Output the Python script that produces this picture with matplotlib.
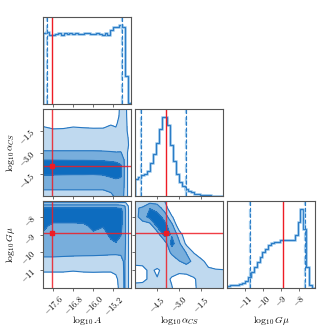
import numpy as np
import matplotlib
matplotlib.use("Agg")
import matplotlib.pyplot as plt
from matplotlib.ticker import FixedLocator, FixedFormatter, NullFormatter, NullLocator

plt.rcParams['mathtext.fontset'] = 'cm'
plt.rcParams['font.family'] = ['DejaVu Serif']

# ---------------- data ----------------
labels = [r"$\log_{10}A$", r"$\log_{10}\alpha_{CS}$", r"$\log_{10}G\mu$"]
ranges = [(-18.0, -14.5), (-6.0, 0.0), (-12.0, -7.08)]
truths = [-17.65, -3.92, -8.89]
q_lo = [-17.84, -5.61, -10.72]
q_hi = [-14.85, -2.52, -7.64]
ticks = [[-17.6, -16.8, -16.0, -15.2], [-4.5, -3.0, -1.5], [-11, -10, -9, -8]]
tick_labels = [[r"$-17.6$", r"$-16.8$", r"$-16.0$", r"$-15.2$"],
               [r"$-4.5$", r"$-3.0$", r"$-1.5$"],
               [r"$-11$", r"$-10$", r"$-9$", r"$-8$"]]

# 1D marginal histograms (30 bins over each range, peak-normalised)
hist_A = [0.902, 0.911, 0.877, 0.877, 0.885, 0.902, 0.877, 0.894, 0.885, 0.894,
          0.881, 0.894, 0.885, 0.885, 0.902, 0.894, 0.889, 0.885, 0.894, 0.885,
          0.877, 0.902, 0.877, 0.936, 0.970, 0.979, 1.000, 0.979, 0.362, 0.021]
hist_alpha = [0.221, 0.247, 0.264, 0.285, 0.319, 0.417, 0.532, 0.668, 0.843, 0.991,
              1.000, 0.894, 0.647, 0.447, 0.277, 0.179, 0.128, 0.094, 0.060, 0.047,
              0.034, 0.026, 0.021, 0.017, 0.013, 0.013, 0.009, 0.009, 0.004, 0.004]
hist_Gmu = [0.021, 0.034, 0.038, 0.043, 0.055, 0.068, 0.094, 0.140, 0.204, 0.264,
            0.328, 0.391, 0.447, 0.489, 0.545, 0.570, 0.583, 0.583, 0.609, 0.609,
            0.609, 0.604, 0.609, 0.672, 0.830, 1.000, 0.745, 0.264, 0.034, 0.000]

# 2D density grids (arbitrary units; contour thresholds 1, 2, 3)
A_nodes = [-18.0, -17.6, -17.2, -16.8, -16.4, -16.0, -15.6, -15.3, -15.1, -14.9, -14.75, -14.6, -14.5]
alpha_nodes = [-6.0, -5.5, -5.0, -4.5, -4.0, -3.5, -3.0, -2.5, -2.0, -1.5, -1.0, -0.5, 0.0]
Gmu_nodes_A = [-12.0, -11.5, -11.0, -10.5, -10.0, -9.5, -9.0, -8.5, -8.0, -7.6, -7.4, -7.2, -7.0]
Gmu_nodes_alpha = [-12.0, -11.5, -11.0, -10.5, -10.0, -9.5, -9.0, -8.5, -8.0, -7.5, -7.0]

dens_A_alpha = [
    [1.3, 1.3, 1.3, 1.3, 1.3, 1.3, 1.3, 1.7, 2.2, 2.3, 1.9, 0.75, 0.3],
    [2.1, 2.1, 2.1, 2.1, 2.1, 2.1, 2.1, 2.3, 2.5, 2.5, 1.9, 0.75, 0.3],
    [2.5, 2.5, 2.5, 2.5, 2.5, 2.5, 2.55, 2.7, 2.8, 2.8, 1.9, 0.75, 0.3],
    [3.05, 3.05, 3.03, 3.02, 3.02, 3.01, 3.05, 3.2, 3.3, 3.15, 1.9, 0.75, 0.3],
    [3.6, 3.6, 3.6, 3.6, 3.6, 3.6, 3.6, 3.6, 3.6, 3.2, 1.9, 0.75, 0.3],
    [2.98, 2.97, 2.96, 2.95, 2.95, 2.94, 2.9, 2.8, 2.7, 2.6, 1.9, 0.75, 0.3],
    [2.1, 2.1, 2.1, 2.1, 2.1, 2.1, 2.08, 2.05, 2.02, 2.02, 1.85, 0.75, 0.3],
    [1.68, 1.68, 1.68, 1.68, 1.68, 1.68, 1.68, 1.68, 1.7, 1.8, 1.75, 1.05, 0.3],
    [1.5, 1.5, 1.5, 1.5, 1.5, 1.5, 1.5, 1.5, 1.5, 1.6, 1.6, 0.95, 0.3],
    [1.1, 1.1, 1.1, 1.1, 1.1, 1.1, 1.1, 1.1, 1.15, 1.5, 1.5, 0.75, 0.3],
    [0.92, 0.68, 0.75, 0.9, 0.85, 0.8, 0.81, 0.97, 0.85, 1.4, 1.4, 0.75, 0.3],
    [0.6, 0.5, 0.5, 0.55, 0.55, 0.5, 0.5, 0.6, 0.5, 1.3, 1.3, 0.75, 0.3],
    [0.4, 0.3, 0.3, 0.35, 0.35, 0.3, 0.3, 0.4, 0.4, 1.26, 1.26, 0.75, 0.3],
]

dens_A_Gmu = [
    [0.4, 0.4, 0.4, 0.4, 0.4, 0.4, 0.4, 0.4, 0.5, 1.5, 2.1, 1.05, 0.3],
    [0.6, 0.6, 0.6, 0.55, 0.6, 0.6, 0.6, 0.6, 0.7, 1.6, 2.1, 1.05, 0.3],
    [1.1, 1.1, 1.1, 1.05, 1.1, 1.12, 1.1, 1.1, 1.3, 1.7, 2.1, 1.05, 0.3],
    [1.8, 1.8, 1.78, 1.76, 1.75, 1.75, 1.74, 1.72, 1.7, 1.8, 2.1, 1.05, 0.3],
    [2.2, 2.2, 2.18, 2.16, 2.15, 2.14, 2.12, 2.1, 2.1, 2.1, 2.2, 1.05, 0.3],
    [2.5, 2.5, 2.5, 2.5, 2.5, 2.5, 2.5, 2.8, 2.95, 2.7, 2.3, 1.05, 0.3],
    [2.8, 2.6, 2.6, 2.6, 2.6, 2.8, 2.7, 3.2, 3.3, 3.05, 2.3, 1.05, 0.3],
    [3.3, 2.7, 2.7, 2.7, 2.75, 3.3, 3.05, 3.4, 3.4, 3.3, 2.3, 1.05, 0.3],
    [3.6, 3.6, 3.6, 3.6, 3.6, 3.6, 3.6, 3.6, 3.6, 3.4, 2.3, 1.05, 0.3],
    [3.5, 3.5, 3.5, 3.5, 3.5, 3.5, 3.5, 3.5, 3.5, 3.3, 2.3, 1.05, 0.3],
    [2.6, 2.6, 2.6, 2.6, 2.6, 2.6, 2.6, 2.6, 2.6, 2.5, 2.1, 1.0, 0.3],
    [1.0, 1.0, 1.0, 1.0, 1.0, 1.0, 1.0, 1.0, 1.0, 1.05, 1.05, 0.9, 0.3],
    [0.2, 0.2, 0.2, 0.2, 0.2, 0.2, 0.2, 0.2, 0.2, 0.2, 0.2, 0.2, 0.2],
]

dens_alpha_Gmu = [
    [1.5, 1.5, 1.5, 1.4, 1.3, 1.05, 0.5, 0.5, 0.85, 1.3, 1.4, 1.4, 1.3],
    [0.6, 0.7, 1.2, 1.05, 1.3, 0.9, 0.5, 0.5, 0.9, 1.3, 1.4, 1.4, 1.3],
    [0.62, 0.7, 1.2, 0.85, 1.3, 1.3, 1.3, 1.4, 1.4, 1.3, 1.2, 1.1, 1.05],
    [1.3, 1.3, 1.3, 1.6, 1.3, 1.4, 1.95, 2.3, 1.8, 1.3, 0.6, 0.3, 0.3],
    [1.3, 1.3, 1.3, 1.3, 1.3, 2.2, 2.7, 1.95, 0.95, 0.3, 0.2, 0.2, 0.2],
    [1.3, 1.3, 1.3, 1.3, 1.3, 3.4, 2.2, 0.76, 0.2, 0.2, 0.2, 0.2, 0.2],
    [1.3, 1.3, 1.3, 1.3, 3.4, 2.9, 1.61, 0.2, 0.2, 0.2, 0.2, 0.2, 0.2],
    [1.3, 1.3, 1.39, 3.18, 3.35, 2.375, 0.29, 0.2, 0.2, 0.2, 0.2, 0.2, 0.2],
    [1.6, 2.6, 3.3, 3.4, 2.7, 1.1, 0.3, 0.2, 0.2, 0.2, 0.2, 0.2, 0.2],
    [1.9, 2.1, 2.98, 2.6, 1.5, 0.3, 0.2, 0.2, 0.2, 0.2, 0.2, 0.2, 0.2],
    [1.3, 1.25, 1.17, 1.2, 0.9, 0.3, 0.2, 0.2, 0.2, 0.2, 0.2, 0.2, 0.2],
]

# ---------------- style ----------------
fill_colors = ["#bfd9ef", "#78aedc", "#0d6cbf"]
line_color = "#2677c2"
hist_dark = "#2b7cc6"
hist_light = "#a3cdee"
red = "#ee1c24"
spine_color = "#555555"

hists = [hist_A, hist_alpha, hist_Gmu]
grids = {
    (1, 0): (A_nodes, alpha_nodes, dens_A_alpha),
    (2, 0): (A_nodes, Gmu_nodes_A, dens_A_Gmu),
    (2, 1): (alpha_nodes, Gmu_nodes_alpha, dens_alpha_Gmu),
}

fig, axes = plt.subplots(3, 3, figsize=(3.32, 3.32), dpi=100)
fig.subplots_adjust(left=0.13, right=0.949, bottom=0.1325, top=0.9488,
                    wspace=0.05, hspace=0.05)

for i in range(3):
    for j in range(3):
        ax = axes[i, j]
        if j > i:
            ax.set_visible(False)
            continue
        for s in ax.spines.values():
            s.set_color(spine_color)
            s.set_linewidth(0.8)
        ax.tick_params(length=2.5, width=0.6, color=spine_color, labelsize=6, pad=1.5)
        if i == j:
            lo, hi = ranges[i]
            edges = np.linspace(lo, hi, len(hists[i]) + 1)
            ax.stairs(hists[i], edges, color=hist_light, lw=1.8)
            ax.stairs(hists[i], edges, color=hist_dark, lw=0.9)
            for q in (q_lo[i], q_hi[i]):
                ax.axvline(q, color=hist_light, ls="--", lw=1.6)
                ax.axvline(q, color=hist_dark, ls="--", lw=0.8)
            ax.axvline(truths[i], color=red, lw=1.0)
            ax.set_xlim(lo, hi)
            ax.set_ylim(0, 1.1 * max(hists[i]))
            ax.yaxis.set_major_locator(NullLocator())
        else:
            xn, yn, dens = grids[(i, j)]
            X, Y = np.meshgrid(xn, yn)
            Z = np.array(dens)
            ax.contourf(X, Y, Z, levels=[1, 2, 3, 100], colors=fill_colors)
            ax.contour(X, Y, Z, levels=[1, 2, 3], colors=line_color, linewidths=0.8)
            ax.axvline(truths[j], color=red, lw=1.0, alpha=0.85)
            ax.axhline(truths[i], color=red, lw=1.0, alpha=0.85)
            ax.plot(truths[j], truths[i], "s", color=red, ms=3.5)
            ax.set_xlim(*ranges[j])
            ax.set_ylim(*ranges[i])
            ax.yaxis.set_major_locator(FixedLocator(ticks[i]))
            if j == 0:
                ax.yaxis.set_major_formatter(FixedFormatter(tick_labels[i]))
                for lab in ax.get_yticklabels():
                    lab.set_rotation(45)
                ax.set_ylabel(labels[i], fontsize=7)
                ax.yaxis.set_label_coords(-0.3, 0.5)
            else:
                ax.yaxis.set_major_formatter(NullFormatter())
        ax.xaxis.set_major_locator(FixedLocator(ticks[j]))
        if i == 2:
            ax.xaxis.set_major_formatter(FixedFormatter(tick_labels[j]))
            for lab in ax.get_xticklabels():
                lab.set_rotation(45)
            ax.set_xlabel(labels[j], fontsize=7)
            ax.xaxis.set_label_coords(0.5, -0.3)
        else:
            ax.xaxis.set_major_formatter(NullFormatter())

fig.savefig("out.png", dpi=100)
